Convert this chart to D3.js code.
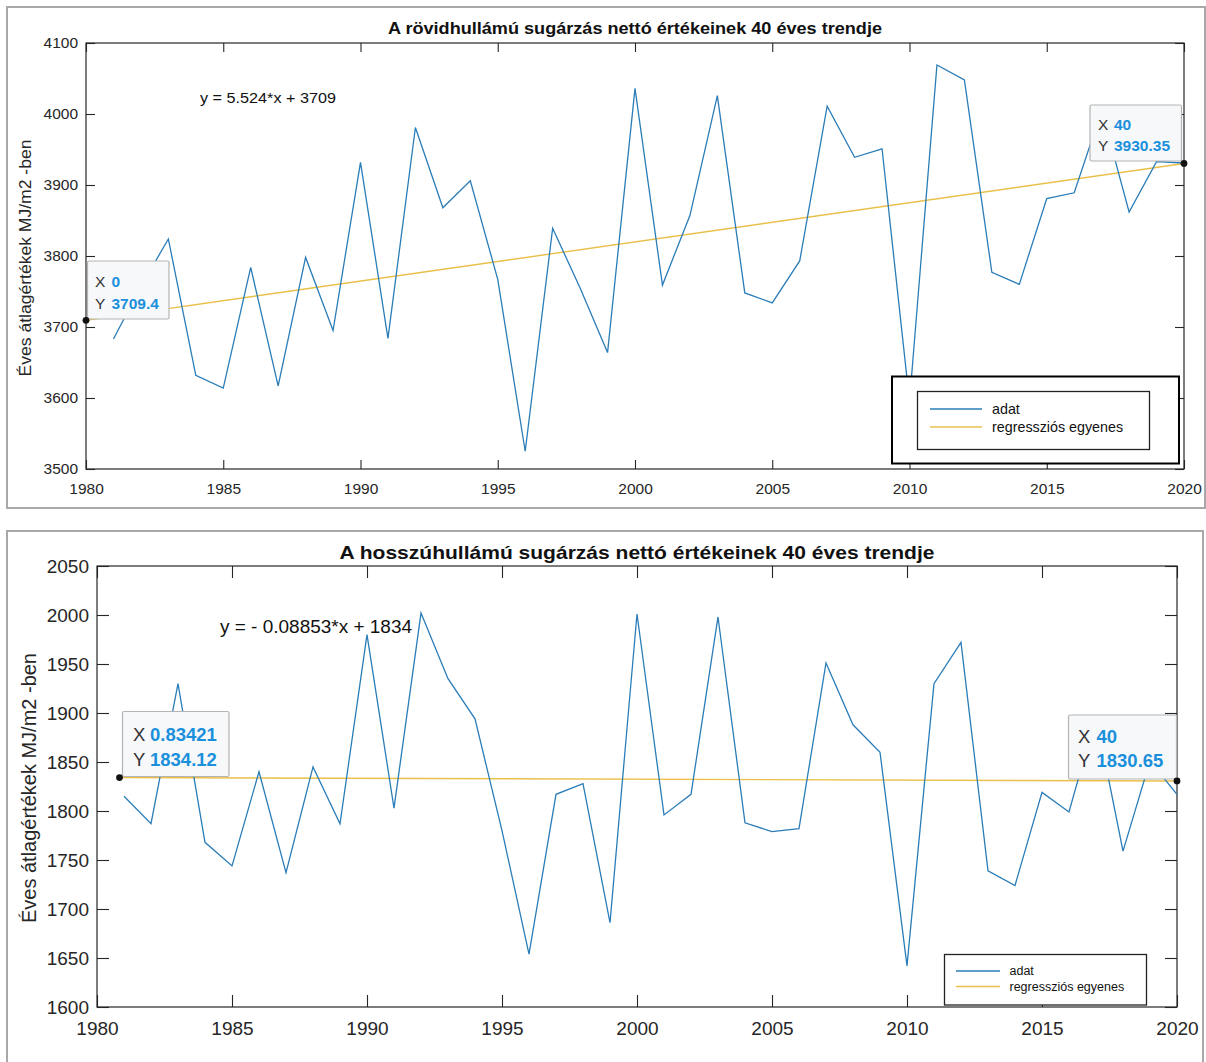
<!DOCTYPE html>
<html><head><meta charset="utf-8">
<script src="https://cdn.jsdelivr.net/npm/d3@7"></script>
<style>
body{margin:0;background:#fff}
svg{display:block}
text{font-family:"Liberation Sans",Arial,sans-serif}
</style>
</head><body>
<svg id="c" width="1206" height="1062"></svg>
<script>
// ---------- DATA ----------
const years = [1981,1982,1983,1984,1985,1986,1987,1988,1989,1990,
               1991,1992,1993,1994,1995,1996,1997,1998,1999,2000,
               2001,2002,2003,2004,2005,2006,2007,2008,2009,2010,
               2011,2012,2013,2014,2015,2016,2017,2018,2019,2020];
const shortwave = [3683,3757,3824,3632,3614,3784,3617,3798,3695,3932,
                   3684,3981,3868,3906,3767,3525,3839,3755,3664,4036,
                   3759,3857,4026,3748,3734,3793,4011,3939,3951,3595,
                   4069,4048,3777,3760,3881,3889,4005,3862,3933,3931];
const longwave = [1815,1787,1930,1768,1744,1840,1737,1845,1787,1980,
                  1803,2002,1935,1894,1780,1654,1817,1828,1686,2001,
                  1796,1817,1998,1788,1779,1782,1951,1888,1860,1642,
                  1930,1972,1739,1724,1819,1799,1897,1759,1851,1817];
const xTickValues = [1980,1985,1990,1995,2000,2005,2010,2015,2020];
const swYTicks = [3500,3600,3700,3800,3900,4000,4100];
const lwYTicks = [1600,1650,1700,1750,1800,1850,1900,1950,2000,2050];
const swTrendX = [1980, 2020];
const swTrendY = [3709.4, 3930.35];
const lwTrendX = [1980.83421, 2020];
const lwTrendY = [1834.12, 1830.65];
const swTipX = ["0", "40"];
const swTipY = ["3709.4", "3930.35"];
const lwTipX = ["0.83421", "40"];
const lwTipY = ["1834.12", "1830.65"];
const swTitle = "A rövidhullámú sugárzás nettó értékeinek 40 éves trendje";
const lwTitle = "A hosszúhullámú sugárzás nettó értékeinek 40 éves trendje";
const yLabelText = "Éves átlagértékek MJ/m2 -ben";
const legendLabels = ["adat", "regressziós egyenes"];
const swEquation = "y = 5.524*x + 3709";
const lwEquation = "y = - 0.08853*x + 1834";

// ---------- STYLE ----------
const BLUE = "#2a7db8", YELLOW = "#eac04a", AXC = "#262626", TIPBLUE = "#1a90dc";
const svg = d3.select("#c");

function panel(cfg) {
  const g = svg.append("g");
  g.append("rect").attr("x", cfg.frame[0]).attr("y", cfg.frame[1])
    .attr("width", cfg.frame[2]).attr("height", cfg.frame[3])
    .attr("fill", "#fff").attr("stroke", "#a8a8a8").attr("stroke-width", 2);

  const x = d3.scaleLinear().domain([1980, 2020]).range([cfg.l, cfg.r]);
  const y = d3.scaleLinear().domain(cfg.yDomain).range([cfg.b, cfg.t]);

  const tl = cfg.tick;
  const axB = g.append("g").attr("transform", `translate(0,${cfg.b})`)
    .call(d3.axisBottom(x).tickValues(xTickValues).tickFormat(d3.format("d"))
      .tickSizeInner(-tl).tickSizeOuter(0).tickPadding(cfg.xPad));
  const axT = g.append("g").attr("transform", `translate(0,${cfg.t})`)
    .call(d3.axisTop(x).tickValues(xTickValues).tickFormat("")
      .tickSizeInner(-tl).tickSizeOuter(0));
  const axL = g.append("g").attr("transform", `translate(${cfg.l},0)`)
    .call(d3.axisLeft(y).tickValues(cfg.yTicks).tickFormat(d3.format("d"))
      .tickSizeInner(-tl).tickSizeOuter(0).tickPadding(cfg.yPad));
  const axR = g.append("g").attr("transform", `translate(${cfg.r},0)`)
    .call(d3.axisRight(y).tickValues(cfg.yTicks).tickFormat("")
      .tickSizeInner(-tl).tickSizeOuter(0));
  [axB, axT, axL, axR].forEach(a => {
    a.select(".domain").remove();
    a.selectAll("line").attr("stroke", AXC).attr("stroke-width", 1.1);
    a.selectAll("text").attr("fill", AXC).attr("font-size", cfg.fs)
      .style("font-family", '"Liberation Sans",Arial,sans-serif');
  });
  g.append("rect").attr("x", cfg.l).attr("y", cfg.t)
    .attr("width", cfg.r - cfg.l).attr("height", cfg.b - cfg.t)
    .attr("fill", "none").attr("stroke", AXC).attr("stroke-width", 1.2);

  // title
  g.append("text").attr("x", (cfg.l + cfg.r) / 2).attr("y", cfg.titleY)
    .attr("text-anchor", "middle").attr("dominant-baseline", "central")
    .attr("font-weight", "bold").attr("font-size", cfg.titleFs).attr("fill", "#111")
    .attr("textLength", cfg.titleLen).attr("lengthAdjust", "spacingAndGlyphs")
    .text(cfg.title);
  // y label
  g.append("text").attr("transform", `translate(${cfg.yLabX},${cfg.yLabY}) rotate(-90)`)
    .attr("text-anchor", "middle").attr("dominant-baseline", "central")
    .attr("font-size", cfg.yLabFs).attr("fill", AXC)
    .attr("textLength", cfg.yLabLen).attr("lengthAdjust", "spacingAndGlyphs")
    .text(yLabelText);
  // equation
  g.append("text").attr("x", cfg.eq[0]).attr("y", cfg.eq[1])
    .attr("dominant-baseline", "central").attr("font-size", cfg.eqFs).attr("fill", "#111")
    .attr("textLength", cfg.eqLen).attr("lengthAdjust", "spacingAndGlyphs")
    .text(cfg.equation);

  const line = d3.line().x(d => x(d[0])).y(d => y(d[1]));
  const trend = cfg.trendX.map((v, i) => [v, cfg.trendY[i]]);
  g.append("path").datum(trend).attr("d", line).attr("fill", "none")
    .attr("stroke", YELLOW).attr("stroke-width", 1.4);
  const pts = years.map((yr, i) => [yr, cfg.values[i]]);
  g.append("path").datum(pts).attr("d", line).attr("fill", "none")
    .attr("stroke", BLUE).attr("stroke-width", 1.3).attr("stroke-linejoin", "miter");

  cfg.tips.forEach((tp, i) => {
    g.append("rect").attr("x", tp.box[0]).attr("y", tp.box[1])
      .attr("width", tp.box[2]).attr("height", tp.box[3]).attr("rx", 1.5)
      .attr("fill", "#f7f8fa").attr("stroke", "#b4b4b4").attr("stroke-width", 1.2);
    const rows = [["X", cfg.tipX[i]], ["Y", cfg.tipY[i]]];
    rows.forEach((r, j) => {
      g.append("text").attr("x", tp.tx).attr("y", tp.rows[j])
        .attr("dominant-baseline", "central").attr("font-size", cfg.tipFs)
        .attr("fill", "#333").text(r[0]);
      g.append("text").attr("x", tp.vx).attr("y", tp.rows[j])
        .attr("dominant-baseline", "central").attr("font-size", cfg.tipFs)
        .attr("font-weight", "bold").attr("fill", TIPBLUE).text(r[1]);
    });
  });
  trend.forEach(d => {
    g.append("circle").attr("cx", x(d[0])).attr("cy", y(d[1])).attr("r", 3.4).attr("fill", "#111");
  });

  const L = cfg.legend;
  if (L.outer) {
    g.append("rect").attr("x", L.outer[0]).attr("y", L.outer[1])
      .attr("width", L.outer[2]).attr("height", L.outer[3])
      .attr("fill", "#fff").attr("stroke", "#000").attr("stroke-width", 2);
  }
  g.append("rect").attr("x", L.box[0]).attr("y", L.box[1])
    .attr("width", L.box[2]).attr("height", L.box[3])
    .attr("fill", "#fff").attr("stroke", "#222").attr("stroke-width", 1.3);
  [BLUE, YELLOW].forEach((c, k) => {
    g.append("line").attr("x1", L.lx[0]).attr("x2", L.lx[1])
      .attr("y1", L.rows[k]).attr("y2", L.rows[k])
      .attr("stroke", c).attr("stroke-width", 1.4);
    g.append("text").attr("x", L.tx).attr("y", L.rows[k])
      .attr("dominant-baseline", "central").attr("font-size", L.fs).attr("fill", "#111")
      .text(legendLabels[k]);
  });
}

panel({
  frame: [7, 7, 1198, 501],
  l: 86, r: 1184, t: 43, b: 469, yDomain: [3500, 4100], yTicks: swYTicks,
  tick: 9, fs: 15.5, xPad: 13.5, yPad: 8,
  title: swTitle, titleY: 28, titleFs: 16.5, titleLen: 494,
  yLabX: 25, yLabY: 258, yLabFs: 17, yLabLen: 237,
  equation: swEquation, eq: [200, 97], eqFs: 15.5, eqLen: 136,
  values: shortwave, trendX: swTrendX, trendY: swTrendY,
  tipX: swTipX, tipY: swTipY, tipFs: 15.5,
  tips: [
    {box: [87.5, 261, 81.5, 58], tx: 95, vx: 111.5, rows: [281, 303]},
    {box: [1090, 105, 91.5, 56], tx: 1098, vx: 1114, rows: [124, 145]}
  ],
  legend: {outer: [892, 376.5, 287, 87], box: [917.5, 391.5, 232, 58],
           lx: [930, 982], rows: [409, 427], tx: 992, fs: 14.3}
});

panel({
  frame: [7, 531, 1196, 545],
  l: 97, r: 1177, t: 566, b: 1007, yDomain: [1600, 2050], yTicks: lwYTicks,
  tick: 12, fs: 19, xPad: 14.5, yPad: 8,
  title: lwTitle, titleY: 552, titleFs: 18.5, titleLen: 595,
  yLabX: 29, yLabY: 788, yLabFs: 19.5, yLabLen: 270,
  equation: lwEquation, eq: [220, 627], eqFs: 18, eqLen: 192,
  values: longwave, trendX: lwTrendX, trendY: lwTrendY,
  tipX: lwTipX, tipY: lwTipY, tipFs: 18.5,
  tips: [
    {box: [122.5, 711.5, 106.5, 65], tx: 133, vx: 150, rows: [734.5, 759]},
    {box: [1068.5, 715, 108, 64], tx: 1078, vx: 1096.5, rows: [736.5, 760]}
  ],
  legend: {outer: null, box: [944.5, 954.5, 202, 50.5],
           lx: [956, 1000], rows: [971, 986.5], tx: 1009.5, fs: 12.5}
});
</script>
</body></html>
